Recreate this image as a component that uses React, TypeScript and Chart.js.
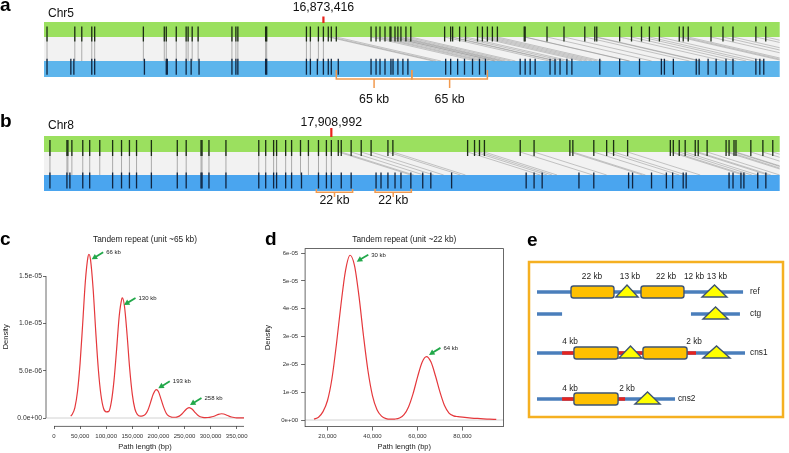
import React, { useEffect, useRef } from 'react';
import { Chart, registerables } from 'chart.js';

Chart.register(...registerables);

const FONT = '"Liberation Sans", Arial, Helvetica, sans-serif';

// ---------------- Panel a : Chr5 (positions in kb from window start) ----------------
const chr5WindowStartKb = 16633.0;
const chr5WindowKb = 633;
const chr5BreakpointBp = 16873416;
const chr5RefMarkersKb = [2.6, 26.5, 32.5, 41.1, 43.6, 85.5, 103.5, 105.2, 113.8, 122.3, 124.0, 127.5, 132.6, 161.7, 165.1, 166.8, 190.7, 191.6, 225.8, 229.2, 236.1, 240.4, 244.6, 247.2, 251.5, 281.4, 285.7, 289.1, 293.4, 297.7, 298.5, 302.0, 304.5, 307.1, 311.4, 315.6, 344.7, 349.9, 351.6, 357.6, 362.7, 373.0, 377.2, 381.5, 385.8, 390.1, 413.2, 414.0, 432.8, 447.4, 465.3, 473.9, 475.6, 495.3, 505.5, 514.1, 520.9, 529.5, 546.6, 550.0, 554.3, 573.9, 584.2, 592.8, 612.5, 621.0];
const chr5CtgMarkersKb = [2.6, 23.1, 25.7, 41.1, 43.6, 86.4, 105.2, 106.1, 113.8, 122.3, 126.6, 133.4, 161.7, 165.1, 166.8, 190.7, 191.6, 225.8, 229.2, 235.2, 240.4, 244.6, 247.2, 253.2, 281.4, 285.7, 289.1, 293.4, 298.5, 300.3, 304.5, 308.8, 313.1, 345.6, 349.9, 355.9, 361.8, 368.7, 374.7, 379.8, 409.7, 414.0, 418.3, 422.6, 435.4, 439.7, 444.0, 449.9, 454.2, 478.2, 495.3, 512.4, 531.2, 533.8, 541.5, 561.2, 563.7, 571.4, 578.3, 586.8, 592.8, 612.5, 615.9, 619.3];
const chr5RepeatStartsKb = [251.5, 316.5];
const chr5RepeatUnitKb = 65;
const chr5RepeatLabel = '65 kb';
const chr5ShiftKb = 90;

// ---------------- Panel b : Chr8 ----------------
const chr8WindowStartKb = 17734.8;
const chr8WindowKb = 446;
const chr8BreakpointBp = 17908992;
const chr8RefMarkersKb = [3.6, 13.9, 14.5, 16.9, 23.5, 27.7, 33.8, 41.6, 47.0, 51.8, 56.1, 65.1, 80.8, 86.2, 95.2, 95.8, 100.0, 110.3, 130.2, 134.4, 139.2, 141.0, 146.5, 150.1, 155.5, 160.3, 166.4, 171.2, 174.2, 178.4, 180.2, 186.2, 192.3, 198.3, 208.5, 211.5, 256.8, 261.0, 264.0, 267.0, 288.7, 297.1, 318.8, 320.6, 333.3, 341.1, 345.3, 353.8, 379.7, 381.5, 385.1, 388.7, 394.8, 396.6, 402.0, 413.5, 415.3, 418.3, 419.5, 428.5, 435.8, 441.8];
const chr8CtgMarkersKb = [3.6, 13.9, 15.7, 23.5, 27.7, 41.6, 47.0, 51.8, 56.1, 65.1, 80.8, 86.2, 95.2, 95.8, 100.0, 110.3, 130.2, 134.4, 139.2, 141.0, 146.5, 150.1, 156.1, 166.4, 171.2, 174.2, 180.2, 186.2, 201.3, 204.3, 208.5, 212.8, 216.4, 222.4, 229.6, 234.5, 247.1, 292.3, 297.1, 302.0, 324.3, 333.3, 354.4, 356.8, 368.3, 377.3, 381.1, 387.5, 389.3, 415.3, 417.7, 422.5, 424.3, 432.7, 437.6];
const chr8RepeatStartsKb = [165.1, 200.7];
const chr8RepeatUnitKb = 22;
const chr8RepeatLabel = '22 kb';
const chr8ShiftKb = 44;

// ---------------- Panel c : density, unit ~65 kb ----------------
const cPathLength = [32000, 35000, 40000, 45000, 50000, 55000, 60000, 65000, 67000, 70000, 75000, 80000, 85000, 90000, 95000, 100000, 105000, 110000, 115000, 120000, 125000, 130000, 131000, 135000, 140000, 145000, 150000, 155000, 160000, 165000, 170000, 175000, 180000, 185000, 190000, 196000, 200000, 205000, 210000, 215000, 220000, 225000, 230000, 235000, 240000, 245000, 250000, 255000, 259000, 265000, 270000, 275000, 280000, 285000, 290000, 295000, 300000, 305000, 310000, 315000, 321000, 325000, 330000, 335000, 340000, 345000, 350000, 355000, 360000, 366000];
const cDensity = [0.02e-5, 0.04e-5, 0.11e-5, 0.28e-5, 0.58e-5, 1.0e-5, 1.44e-5, 1.70e-5, 1.73e-5, 1.67e-5, 1.36e-5, 0.91e-5, 0.51e-5, 0.24e-5, 0.10e-5, 0.065e-5, 0.07e-5, 0.175e-5, 0.40e-5, 0.73e-5, 1.08e-5, 1.26e-5, 1.27e-5, 1.18e-5, 0.88e-5, 0.52e-5, 0.25e-5, 0.095e-5, 0.035e-5, 0.02e-5, 0.022e-5, 0.038e-5, 0.085e-5, 0.165e-5, 0.25e-5, 0.30e-5, 0.28e-5, 0.20e-5, 0.115e-5, 0.05e-5, 0.02e-5, 0.01e-5, 0.008e-5, 0.01e-5, 0.02e-5, 0.042e-5, 0.073e-5, 0.10e-5, 0.11e-5, 0.092e-5, 0.06e-5, 0.031e-5, 0.013e-5, 0.006e-5, 0.004e-5, 0.005e-5, 0.009e-5, 0.016e-5, 0.027e-5, 0.039e-5, 0.045e-5, 0.042e-5, 0.032e-5, 0.02e-5, 0.011e-5, 0.005e-5, 0.002e-5, 0.001e-5, 0.0005e-5, 0.0003e-5];
const cXTicks = [0, 50000, 100000, 150000, 200000, 250000, 300000, 350000];
const cXTickLabels = ['0', '50,000', '100,000', '150,000', '200,000', '250,000', '300,000', '350,000'];
const cYTicks = [0, 5e-6, 1e-5, 1.5e-5];
const cYTickLabels = ['0.0e+00', '5.0e-06', '1.0e-05', '1.5e-05'];
const cPeakLabels = ['66 kb', '130 kb', '193 kb', '258 kb'];
const cArrowTipBp = [72200, 134100, 199800, 260500];
const cArrowTipDensity = [1.676e-5, 1.194e-5, 0.314e-5, 0.137e-5];

// ---------------- Panel d : density, unit ~22 kb ----------------
const dPathLength = [14000, 16000, 18000, 20000, 22000, 24000, 26000, 28000, 30000, 32000, 34000, 36000, 38000, 40000, 42000, 44000, 46000, 48000, 50000, 52000, 54000, 56000, 58000, 60000, 62000, 64000, 66000, 68000, 70000, 72000, 74000, 76000, 78000, 80000, 84000, 88000, 92000, 95000];
const dDensity = [0.03e-5, 0.10e-5, 0.30e-5, 0.70e-5, 1.50e-5, 2.75e-5, 4.16e-5, 5.37e-5, 5.92e-5, 5.55e-5, 4.44e-5, 3.02e-5, 1.76e-5, 0.87e-5, 0.37e-5, 0.14e-5, 0.05e-5, 0.03e-5, 0.035e-5, 0.07e-5, 0.19e-5, 0.47e-5, 0.94e-5, 1.54e-5, 2.07e-5, 2.28e-5, 2.08e-5, 1.58e-5, 1.0e-5, 0.52e-5, 0.25e-5, 0.15e-5, 0.12e-5, 0.10e-5, 0.07e-5, 0.05e-5, 0.03e-5, 0.02e-5];
const dXTicks = [20000, 40000, 60000, 80000];
const dXTickLabels = ['20,000', '40,000', '60,000', '80,000'];
const dYTicks = [0, 1e-5, 2e-5, 3e-5, 4e-5, 5e-5, 6e-5];
const dYTickLabels = ['0e+00', '1e-05', '2e-05', '3e-05', '4e-05', '5e-05', '6e-05'];
const dPeakLabels = ['30 kb', '64 kb'];
const dArrowTipBp = [33000, 65100];
const dArrowTipDensity = [5.69e-5, 2.34e-5];

// ---------------- Panel e : schematic (x in kb-like schematic units) ----------------
const eRowNames = ['ref', 'ctg', 'cns1', 'cns2'];
const eRowNameAt = [109.6, 109.6, 109.6, 72.5];
const eBackbone = [[0, 0, 106], [1, 0, 12.9], [1, 79.2, 104.4], [2, 0, 107], [3, 0, 71]];
const eInserted = [[2, 12.9, 19.0], [2, 41.2, 54.5], [2, 77.2, 81.8], [3, 12.9, 19.0], [3, 41.7, 45.3]];
const eRepeatUnits = [[0, 17.5, 39.6], [0, 53.5, 75.6], [2, 19.0, 41.7], [2, 54.5, 77.2], [3, 19.0, 41.7]];
const eTriangles = [[0, 40.6, 52.0], [0, 84.9, 97.7], [1, 85.4, 98.3], [2, 42.2, 54.0], [2, 85.4, 99.3], [3, 50.4, 63.3]];
const eSizeLabels: [number, number, string][] = [[0, 28.3, '22 kb'], [0, 47.8, '13 kb'], [0, 66.4, '22 kb'], [0, 80.8, '12 kb'], [0, 92.6, '13 kb'], [2, 17.0, '4 kb'], [2, 80.8, '2 kb'], [3, 17.0, '4 kb'], [3, 46.3, '2 kb']];

// ---------------- helpers ----------------
const CURVE = '#e5383c';
const AXIS = '#444';
const ARROW = '#22a84a';

function baseOptions() {
  return {
    animation: false,
    responsive: false,
    maintainAspectRatio: false,
    devicePixelRatio: 1,
    events: [] as any[],
  };
}

function letter(ctx: CanvasRenderingContext2D, t: string, x: number, y: number) {
  ctx.save();
  ctx.fillStyle = '#000';
  ctx.font = `bold 19px ${FONT}`;
  ctx.textAlign = 'left';
  ctx.textBaseline = 'alphabetic';
  ctx.fillText(t, x, y);
  ctx.restore();
}

function makeSynteny(p: any) {
  return (w: number, h: number) => {
    const L = p.layout;
    const bp = p.breakpointBp / 1000 - p.windowStartKb;
    const greenMid = (L.greenTop + L.greenBottom) / 2;
    const blueMid = (L.blueTop + L.blueBottom) / 2;
    const plugin = {
      id: 'synteny',
      beforeDatasetsDraw(chart: any) {
        const { ctx, chartArea: a, scales } = chart;
        const x = scales.x;
        ctx.save();
        ctx.fillStyle = '#f2f2f2';
        ctx.fillRect(a.left, L.greenBottom, a.right - a.left, L.blueTop - L.greenBottom);
        ctx.fillStyle = p.refColor;
        ctx.fillRect(a.left, L.greenTop, a.right - a.left, L.greenBottom - L.greenTop);
        ctx.fillStyle = p.ctgColor;
        ctx.fillRect(a.left, L.blueTop, a.right - a.left, L.blueBottom - L.blueTop);
        ctx.beginPath();
        ctx.rect(a.left, 0, a.right - a.left, h);
        ctx.clip();
        ctx.lineWidth = 0.8;
        for (const m of p.ref) {
          const slanted = m > bp + 2;
          const x0 = x.getPixelForValue(m);
          const x1 = x.getPixelForValue(slanted ? m + p.shiftKb : m);
          ctx.strokeStyle = slanted ? 'rgba(140,140,140,0.6)' : 'rgba(130,130,130,0.8)';
          ctx.beginPath();
          ctx.moveTo(x0, L.greenBottom);
          ctx.lineTo(x1, L.blueTop);
          ctx.stroke();
        }
        ctx.restore();
      },
      afterDatasetsDraw(chart: any) {
        const { ctx, scales } = chart;
        const x = scales.x;
        ctx.save();
        letter(ctx, p.letter, 0, L.letterBaseline);
        ctx.fillStyle = '#111';
        ctx.font = `12px ${FONT}`;
        ctx.textBaseline = 'alphabetic';
        ctx.textAlign = 'left';
        ctx.fillText(p.chrom, 48, L.chrBaseline);
        const xb = x.getPixelForValue(bp);
        ctx.font = `12.3px ${FONT}`;
        ctx.textAlign = 'center';
        ctx.fillText(p.breakpointBp.toLocaleString('en-US'), xb, L.bpBaseline);
        ctx.fillStyle = '#e8221b';
        ctx.fillRect(xb - 1.1, L.redTop, 2.2, L.greenTop - L.redTop + 1);
        // brackets
        ctx.strokeStyle = '#f29a4e';
        ctx.lineWidth = 1.5;
        ctx.fillStyle = '#111';
        ctx.font = `12.3px ${FONT}`;
        for (const s of p.repeatStarts) {
          const x0 = x.getPixelForValue(s);
          const x1 = x.getPixelForValue(s + p.unitKb);
          const xm = (x0 + x1) / 2;
          ctx.beginPath();
          ctx.moveTo(x0, L.bracketUp);
          ctx.lineTo(x0, L.bracketY);
          ctx.lineTo(x1, L.bracketY);
          ctx.lineTo(x1, L.bracketUp);
          ctx.moveTo(xm, L.bracketY);
          ctx.lineTo(xm, L.bracketDown);
          ctx.stroke();
          ctx.fillText(p.unitLabel, xm, L.bracketLabelBaseline);
        }
        ctx.restore();
      },
    };
    return {
      type: 'scatter',
      data: {
        datasets: [
          {
            data: p.ref.map((v: number) => ({ x: v, y: greenMid })),
            pointStyle: 'line',
            pointRotation: 90,
            pointRadius: (L.greenBottom - L.greenTop) / 2,
            pointBorderColor: 'rgba(20,35,15,0.95)',
            pointBorderWidth: 1.3,
          },
          {
            data: p.ctg.map((v: number) => ({ x: v, y: blueMid })),
            pointStyle: 'line',
            pointRotation: 90,
            pointRadius: (L.blueBottom - L.blueTop) / 2,
            pointBorderColor: 'rgba(12,30,55,0.95)',
            pointBorderWidth: 1.3,
          },
        ],
      },
      options: {
        ...baseOptions(),
        layout: { padding: { left: 44, right: w - 784, top: 0, bottom: 0 } },
        scales: {
          x: { type: 'linear', min: 0, max: p.windowKb, display: false },
          y: { type: 'linear', min: 0, max: h, reverse: true, display: false },
        },
        plugins: { legend: { display: false }, tooltip: { enabled: false } },
      },
      plugins: [plugin],
    };
  };
}

function arrowsPlugin(letterText: string, letterX: number, tipsX: number[], tipsY: number[], labels: string[], frame: boolean) {
  return {
    id: 'annot',
    beforeDatasetsDraw(chart: any) {
      const { ctx, chartArea: a, scales } = chart;
      const y0 = scales.y.getPixelForValue(0);
      ctx.save();
      ctx.strokeStyle = '#d2d2d2';
      ctx.lineWidth = 1;
      ctx.beginPath();
      ctx.moveTo(a.left, y0);
      ctx.lineTo(a.right, y0);
      ctx.stroke();
      ctx.restore();
    },
    afterDraw(chart: any) {
      const { ctx, chartArea: a, scales } = chart;
      const xs = scales.x;
      const ys = scales.y;
      ctx.save();
      ctx.strokeStyle = AXIS;
      ctx.lineWidth = 0.8;
      if (frame) {
        ctx.strokeRect(a.left, a.top, a.right - a.left, a.bottom - a.top);
      } else {
        const yt = ys.ticks;
        ctx.beginPath();
        ctx.moveTo(a.left, ys.getPixelForValue(yt[0].value));
        ctx.lineTo(a.left, ys.getPixelForValue(yt[yt.length - 1].value));
        ctx.moveTo(xs.getPixelForValue(xs.ticks[0].value), a.bottom + 0.4);
        ctx.lineTo(a.right, a.bottom + 0.4);
        ctx.stroke();
      }
      for (let i = 0; i < tipsX.length; i++) {
        const tx = xs.getPixelForValue(tipsX[i]);
        const ty = ys.getPixelForValue(tipsY[i]);
        const sx = tx + 11.5;
        const sy = ty - 7;
        const dx = tx - sx;
        const dy = ty - sy;
        const len = Math.hypot(dx, dy);
        const ux = dx / len;
        const uy = dy / len;
        ctx.strokeStyle = ARROW;
        ctx.fillStyle = ARROW;
        ctx.lineWidth = 1.8;
        ctx.beginPath();
        ctx.moveTo(sx, sy);
        ctx.lineTo(tx - ux * 4, ty - uy * 4);
        ctx.stroke();
        ctx.beginPath();
        ctx.moveTo(tx, ty);
        ctx.lineTo(tx - ux * 5.5 - uy * 3, ty - uy * 5.5 + ux * 3);
        ctx.lineTo(tx - ux * 5.5 + uy * 3, ty - uy * 5.5 - ux * 3);
        ctx.closePath();
        ctx.fill();
        ctx.fillStyle = '#222';
        ctx.font = `6px ${FONT}`;
        ctx.textAlign = 'left';
        ctx.textBaseline = 'middle';
        ctx.fillText(labels[i], sx + 3, sy + 0.5);
      }
      ctx.restore();
      letter(ctx, letterText, letterX, 20);
    },
  };
}

function densityConfig(o: any) {
  return (w: number, h: number) => ({
    type: 'line',
    data: {
      datasets: [
        {
          data: o.xs.map((x: number, i: number) => ({ x, y: o.ys[i] })),
          borderColor: CURVE,
          borderWidth: 1.2,
          pointRadius: 0,
          fill: false,
          cubicInterpolationMode: 'monotone',
        },
      ],
    },
    options: {
      ...baseOptions(),
      layout: { padding: { top: 10, left: 0, right: w - o.right, bottom: 0 } },
      scales: {
        x: {
          type: 'linear',
          min: o.xMin,
          max: o.xMax,
          afterBuildTicks: (s: any) => {
            s.ticks = o.xTicks.map((v: number) => ({ value: v }));
          },
          afterFit: (s: any) => {
            s.height = h - o.bottom;
          },
          ticks: {
            callback: (_v: any, i: number) => o.xTickLabels[i],
            font: { family: FONT, size: 6 },
            color: '#333',
            padding: o.xTickPad,
            maxRotation: 0,
            minRotation: 0,
            autoSkip: false,
          },
          grid: { drawOnChartArea: false, drawTicks: true, tickLength: o.tickLen, color: AXIS, lineWidth: 0.8 },
          border: { display: false },
          title: { display: true, text: 'Path length (bp)', font: { family: FONT, size: 7.5 }, color: '#222', padding: { top: 0, bottom: 1.5 } },
        },
        y: {
          type: 'linear',
          min: o.yMin,
          max: o.yMax,
          afterBuildTicks: (s: any) => {
            s.ticks = o.yTicks.map((v: number) => ({ value: v }));
          },
          afterFit: (s: any) => {
            s.width = o.left;
          },
          ticks: {
            callback: (_v: any, i: number) => o.yTickLabels[i],
            font: { family: FONT, size: o.yTickFont },
            color: '#333',
            padding: o.yTickPad,
            autoSkip: false,
          },
          grid: { drawOnChartArea: false, drawTicks: true, tickLength: o.tickLen, color: AXIS, lineWidth: 0.8 },
          border: { display: false },
          title: { display: true, text: 'Density', font: { family: FONT, size: 7.5 }, color: '#222', padding: { top: o.yTitlePad, bottom: 0 } },
        },
      },
      plugins: {
        legend: { display: false },
        tooltip: { enabled: false },
        title: {
          display: true,
          text: o.title,
          fullSize: false,
          font: { family: FONT, size: 8.3, weight: 'normal' },
          color: '#222',
          padding: { top: 0, bottom: o.top - 10 - 9.96 },
        },
      },
    },
    plugins: [arrowsPlugin(o.letter, o.letterX, o.tipX, o.tipY, o.labels, o.frame)],
  });
}

function schematicConfig(w: number, h: number) {
  const rowY = [67, 89, 128, 174];
  const labelY = [52, 0, 117, 164];
  const plugin = {
    id: 'schematic',
    afterDraw(chart: any) {
      const { ctx, scales } = chart;
      const x = scales.x;
      const px = (v: number) => x.getPixelForValue(v);
      ctx.save();
      letter(ctx, 'e', 7, 20.7);
      ctx.strokeStyle = '#f5b021';
      ctx.lineWidth = 2.5;
      ctx.strokeRect(9, 37, 254, 155);
      ctx.lineCap = 'butt';
      ctx.lineWidth = 3.5;
      ctx.strokeStyle = '#4a7ebb';
      for (const [r, s, e] of eBackbone) {
        ctx.beginPath();
        ctx.moveTo(px(s), rowY[r]);
        ctx.lineTo(px(e), rowY[r]);
        ctx.stroke();
      }
      ctx.strokeStyle = '#e52420';
      for (const [r, s, e] of eInserted) {
        ctx.beginPath();
        ctx.moveTo(px(s), rowY[r]);
        ctx.lineTo(px(e), rowY[r]);
        ctx.stroke();
      }
      ctx.lineWidth = 1.4;
      ctx.strokeStyle = '#3e5472';
      ctx.fillStyle = '#ffc000';
      for (const [r, s, e] of eRepeatUnits) {
        const x0 = px(s);
        const x1 = px(e);
        ctx.beginPath();
        if ((ctx as any).roundRect) (ctx as any).roundRect(x0, rowY[r] - 6, x1 - x0, 12, 2.5);
        else ctx.rect(x0, rowY[r] - 6, x1 - x0, 12);
        ctx.fill();
        ctx.stroke();
      }
      ctx.fillStyle = '#ffff00';
      for (const [r, s, e] of eTriangles) {
        const x0 = px(s);
        const x1 = px(e);
        ctx.beginPath();
        ctx.moveTo(x0, rowY[r] + 5);
        ctx.lineTo((x0 + x1) / 2, rowY[r] - 7);
        ctx.lineTo(x1, rowY[r] + 5);
        ctx.closePath();
        ctx.fill();
        ctx.stroke();
      }
      ctx.fillStyle = '#222';
      ctx.font = `8.3px ${FONT}`;
      ctx.textBaseline = 'middle';
      ctx.textAlign = 'center';
      for (const [r, v, t] of eSizeLabels) {
        ctx.fillText(t, px(v), labelY[r]);
      }
      ctx.textAlign = 'left';
      eRowNames.forEach((n, i) => {
        ctx.fillText(n, px(eRowNameAt[i]), rowY[i]);
      });
      ctx.restore();
    },
  };
  return {
    type: 'scatter',
    data: { datasets: [] },
    options: {
      ...baseOptions(),
      layout: { padding: { left: 17, right: w - 225, top: 0, bottom: 0 } },
      scales: {
        x: { type: 'linear', min: 0, max: 107, display: false },
        y: { type: 'linear', min: 0, max: h, reverse: true, display: false },
      },
      plugins: { legend: { display: false }, tooltip: { enabled: false } },
    },
    plugins: [plugin],
  };
}

const chr5Config = makeSynteny({
  letter: 'a',
  chrom: 'Chr5',
  windowStartKb: chr5WindowStartKb,
  windowKb: chr5WindowKb,
  breakpointBp: chr5BreakpointBp,
  ref: chr5RefMarkersKb,
  ctg: chr5CtgMarkersKb,
  repeatStarts: chr5RepeatStartsKb,
  unitKb: chr5RepeatUnitKb,
  unitLabel: chr5RepeatLabel,
  shiftKb: chr5ShiftKb,
  refColor: '#9be05f',
  ctgColor: '#5db5ec',
  layout: { letterBaseline: 10.5, chrBaseline: 17.3, bpBaseline: 11, redTop: 16.5, greenTop: 22, greenBottom: 37, blueTop: 61, blueBottom: 77, bracketY: 79, bracketUp: 70, bracketDown: 88, bracketLabelBaseline: 103.3 },
});

const chr8Config = makeSynteny({
  letter: 'b',
  chrom: 'Chr8',
  windowStartKb: chr8WindowStartKb,
  windowKb: chr8WindowKb,
  breakpointBp: chr8BreakpointBp,
  ref: chr8RefMarkersKb,
  ctg: chr8CtgMarkersKb,
  repeatStarts: chr8RepeatStartsKb,
  unitKb: chr8RepeatUnitKb,
  unitLabel: chr8RepeatLabel,
  shiftKb: chr8ShiftKb,
  refColor: '#9be05f',
  ctgColor: '#4aa5ef',
  layout: { letterBaseline: 14.5, chrBaseline: 17, bpBaseline: 13.7, redTop: 16, greenTop: 24, greenBottom: 40, blueTop: 63, blueBottom: 79, bracketY: 80.3, bracketUp: 77, bracketDown: 85, bracketLabelBaseline: 92.3 },
});

const cConfig = densityConfig({
  xs: cPathLength,
  ys: cDensity,
  xMin: -15330,
  xMax: 363980,
  yMin: -8.45e-7,
  yMax: 1.8e-5,
  xTicks: cXTicks,
  xTickLabels: cXTickLabels,
  yTicks: cYTicks,
  yTickLabels: cYTickLabels,
  left: 46,
  right: 244,
  top: 22.6,
  bottom: 201,
  tickLen: 3,
  xTickPad: 3.4,
  yTickPad: 1,
  yTickFont: 6.8,
  yTitlePad: 1,
  title: 'Tandem repeat (unit ~65 kb)',
  letter: 'c',
  letterX: 0,
  tipX: cArrowTipBp,
  tipY: cArrowTipDensity,
  labels: cPeakLabels,
  frame: false,
});

const dConfig = densityConfig({
  xs: dPathLength,
  ys: dDensity,
  xMin: 10040,
  xMax: 98220,
  yMin: -2.37e-6,
  yMax: 6.159e-5,
  xTicks: dXTicks,
  xTickLabels: dXTickLabels,
  yTicks: dYTicks,
  yTickLabels: dYTickLabels,
  left: 47.1,
  right: 245.5,
  top: 23.6,
  bottom: 201.6,
  tickLen: 4,
  xTickPad: 1.8,
  yTickPad: 3,
  yTickFont: 6,
  yTitlePad: 5.5,
  title: 'Tandem repeat (unit ~22 kb)',
  letter: 'd',
  letterX: 7,
  tipX: dArrowTipBp,
  tipY: dArrowTipDensity,
  labels: dPeakLabels,
  frame: true,
});

function Panel({ left, top, width, height, make }: any) {
  const ref = useRef<HTMLCanvasElement>(null);
  useEffect(() => {
    const chart = new Chart(ref.current as HTMLCanvasElement, make(width, height) as any);
    return () => chart.destroy();
  }, []);
  return (
    <canvas
      ref={ref}
      width={width}
      height={height}
      style={{ position: 'absolute', left, top, width, height, display: 'block' }}
    />
  );
}

export default function App() {
  useEffect(() => {
    document.body.style.margin = '0';
  }, []);
  return (
    <div style={{ position: 'absolute', left: 0, top: 0, width: 789, height: 453, background: '#fff', overflow: 'hidden' }}>
      <Panel left={0} top={0} width={789} height={112} make={chr5Config} />
      <Panel left={0} top={112} width={789} height={113} make={chr8Config} />
      <Panel left={0} top={225} width={258} height={228} make={cConfig} />
      <Panel left={258} top={225} width={262} height={228} make={dConfig} />
      <Panel left={520} top={225} width={269} height={228} make={schematicConfig} />
    </div>
  );
}
